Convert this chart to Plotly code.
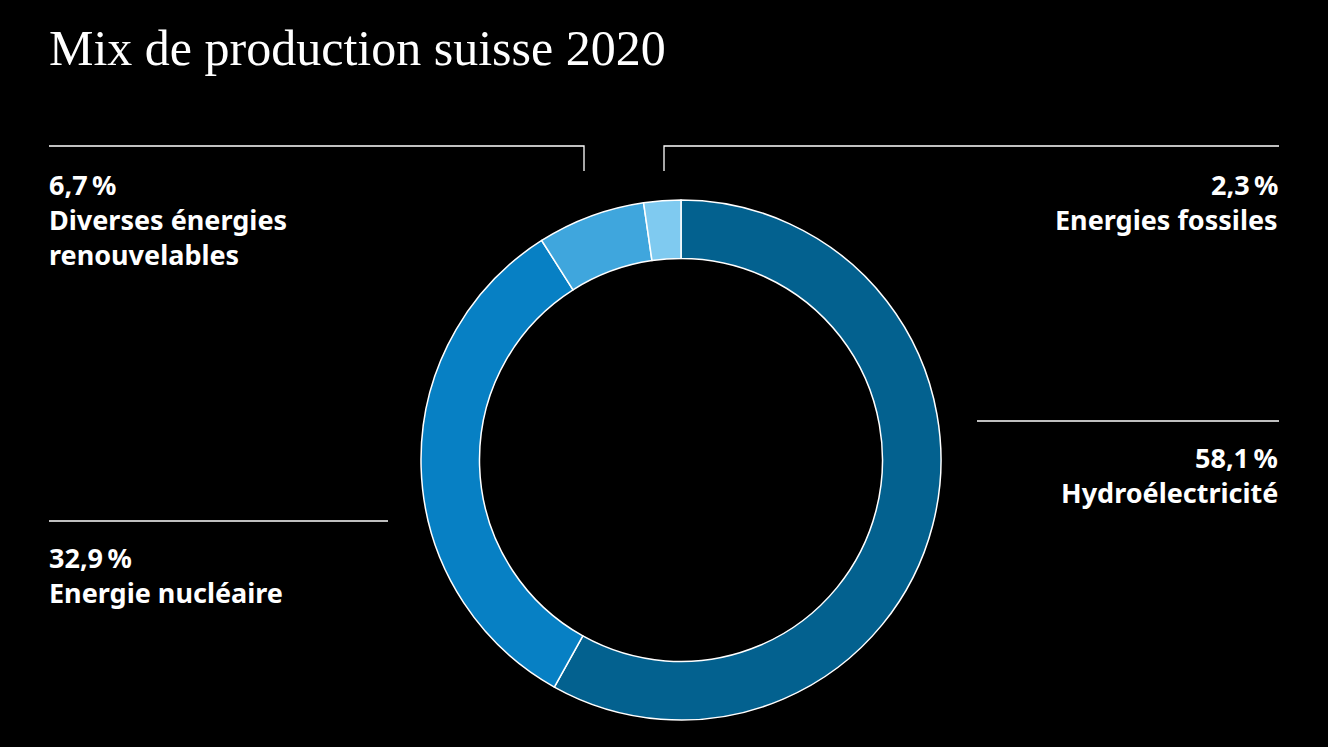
import plotly.graph_objects as go

W, H = 1328, 747

labels = ["Hydroélectricité", "Energie nucléaire", "Diverses énergies renouvelables", "Energies fossiles"]
label_lines = [["Hydroélectricité"], ["Energie nucléaire"], ["Diverses énergies", "renouvelables"], ["Energies fossiles"]]
values = [58.1, 32.9, 6.7, 2.3]
colors = ["#03618f", "#0780c4", "#3fa6dd", "#7fcaf0"]

# label placement (pixels): x, baseline of first line, anchor
label_pos = [
    (1280, 466, "right"),
    (47, 566, "left"),
    (47, 193, "left"),
    (1280, 193, "right"),
]
LINE_GAP = 35
FS = 27

def px(x):
    return x / W

def py(y):
    return 1 - y / H

cx, cy, r = 681, 460, 260

fig = go.Figure()
fig.add_trace(go.Pie(
    labels=labels,
    values=values,
    marker=dict(colors=colors, line=dict(color="white", width=1.5)),
    hole=0.775,
    sort=False,
    direction="clockwise",
    rotation=0,
    textinfo="none",
    hoverinfo="label+percent",
    showlegend=False,
    domain=dict(x=[px(cx - r), px(cx + r)], y=[py(cy + r), py(cy - r)]),
))

annotations = [dict(
    text="Mix de production suisse 2020",
    x=px(47), y=py(48), xref="paper", yref="paper",
    xanchor="left", yanchor="middle", showarrow=False,
    font=dict(family="Liberation Serif, DejaVu Serif, serif", size=50, color="white"),
)]
for (x, base, anc), lines, v in zip(label_pos, label_lines, values):
    pct = f"{v:.1f}".replace(".", ",") + "\u2009%"
    for i, t in enumerate([pct] + lines):
        b = base + i * LINE_GAP
        annotations.append(dict(
            text=f"<b>{t}</b>",
            x=px(x), y=py(b - 0.32 * FS), xref="paper", yref="paper",
            xanchor=anc, yanchor="middle", align=anc, showarrow=False,
            font=dict(family="Noto Sans, sans-serif", size=FS, color="white"),
        ))

line = dict(color="white", width=1.3)
shapes = [
    dict(type="path", path=f"M {px(49)} {py(146)} L {px(584)} {py(146)} L {px(584)} {py(171)}",
         xref="paper", yref="paper", line=line),
    dict(type="path", path=f"M {px(664)} {py(171)} L {px(664)} {py(146)} L {px(1279)} {py(146)}",
         xref="paper", yref="paper", line=line),
    dict(type="line", x0=px(977), x1=px(1279), y0=py(421), y1=py(421), xref="paper", yref="paper", line=line),
    dict(type="line", x0=px(49), x1=px(388), y0=py(521), y1=py(521), xref="paper", yref="paper", line=line),
]

fig.update_layout(
    width=W, height=H,
    margin=dict(l=0, r=0, t=0, b=0),
    paper_bgcolor="black", plot_bgcolor="black",
    annotations=annotations, shapes=shapes,
)

fig.write_html(
    "out.html",
    config=dict(displayModeBar=False),
    post_script="document.body.style.margin='0';document.body.style.background='black';document.body.style.overflow='hidden';",
)
